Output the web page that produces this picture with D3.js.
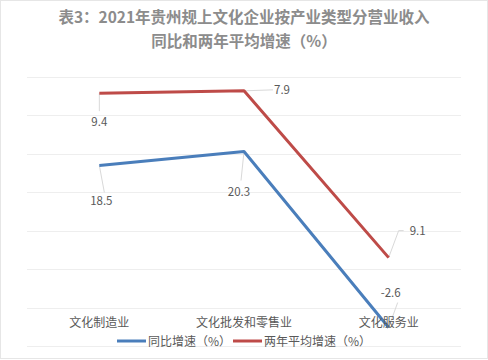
<!DOCTYPE html>
<html><head><meta charset="utf-8">
<script src="https://cdn.jsdelivr.net/npm/d3@7/dist/d3.min.js"></script>
<style>body{margin:0;background:#fff}svg{display:block}</style>
</head><body>
<svg id="c" width="488" height="360"></svg>
<script>
const categories = ["文化制造业", "文化批发和零售业", "文化服务业"];
const seriesNames = ["同比增速（%）", "两年平均增速（%）"];
const yoy = [18.5, 20.3, -2.6];
const twoYearAvg = [9.4, 7.9, 9.1];
const yTicks = [-5, 0, 5, 10, 15, 20, 25, 30];
const titleLines = ["表3：2021年贵州规上文化企业按产业类型分营业收入", "同比和两年平均增速（%）"];

const colors = ["#4a7ebb", "#be4b48"];
// label placement offsets (style): [dx, dy] of label from point, leader elbow
const labelStyle = [
  [{dx: 2, dy: 36, lx: 5, ly: 27}, {dx: -5, dy: 40, lx: -3, ly: 29}, {dx: 2, dy: -35, lx: 9, ly: -25}],
  [{dx: 0, dy: 29, lx: 0, ly: 18}, {dx: 38, dy: -1, lx: 29, ly: -1}, {dx: 29, dy: -27, lx: 10, ly: -27, ex: 5}]
];

const svg = d3.select("#c");
const font = "'Noto Sans CJK SC', 'Noto Sans', sans-serif";

svg.append("rect").attr("x", 0.5).attr("y", 0.5).attr("width", 487).attr("height", 358)
  .attr("fill", "#fff").attr("stroke", "#e6e6e6");

const x = d3.scaleBand().domain(categories).range([27, 461]);
const y = d3.scaleLinear().domain([-5, 30]).range([346, 77]);

// gridlines
svg.append("g").selectAll("line").data(yTicks).join("line")
  .attr("x1", 27).attr("x2", 461)
  .attr("y1", d => Math.round(y(d)) + 0.5).attr("y2", d => Math.round(y(d)) + 0.5)
  .attr("stroke", "#eeeeee").attr("stroke-width", 1);

// title
svg.append("g").selectAll("text").data(titleLines).join("text")
  .attr("x", 244).attr("y", (d, i) => 23 + i * 24)
  .attr("text-anchor", "middle").attr("font-family", font)
  .attr("font-size", 15.5).attr("font-weight", "bold").attr("fill", "#8c8c8c")
  .text(d => d);

// stacked values
const stacked = [yoy, yoy.map((v, i) => v + twoYearAvg[i])];
const raw = [yoy, twoYearAvg];
const cx = c => x(c) + x.bandwidth() / 2;

const line = d3.line().x((d, i) => cx(categories[i])).y(d => y(d));

// leader lines and labels
stacked.forEach((s, si) => {
  s.forEach((v, i) => {
    const st = labelStyle[si][i];
    const px = cx(categories[i]), py = y(v);
    const pts = [[px, py], [px + st.lx, py + st.ly]];
    if (st.ex) pts.push([px + st.lx + st.ex, py + st.ly]);
    svg.append("path").attr("d", d3.line()(pts)).attr("fill", "none")
      .attr("stroke", "#d9d9d9").attr("stroke-width", 1);
  });
});

stacked.forEach((s, si) => {
  svg.append("path").datum(s).attr("d", line).attr("fill", "none")
    .attr("stroke", colors[si]).attr("stroke-width", 3).attr("stroke-linejoin", "round");
});

stacked.forEach((s, si) => {
  s.forEach((v, i) => {
    const st = labelStyle[si][i];
    svg.append("text").attr("x", cx(categories[i]) + st.dx).attr("y", y(v) + st.dy + 4)
      .attr("text-anchor", "middle").attr("font-family", font).attr("font-size", 11.5)
      .attr("fill", "#595959").text(raw[si][i].toFixed(1));
  });
});

// category labels
svg.append("g").selectAll("text").data(categories).join("text")
  .attr("x", d => cx(d)).attr("y", 327)
  .attr("text-anchor", "middle").attr("font-family", font).attr("font-size", 12)
  .attr("fill", "#595959").text(d => d);

// legend
const legX = [117, 233];
seriesNames.forEach((n, i) => {
  svg.append("line").attr("x1", legX[i]).attr("x2", legX[i] + 29)
    .attr("y1", 341).attr("y2", 341).attr("stroke", colors[i]).attr("stroke-width", 3);
  svg.append("text").attr("x", legX[i] + 31).attr("y", 345.5)
    .attr("font-family", font).attr("font-size", 12).attr("fill", "#595959").text(n);
});
</script>
</body></html>
